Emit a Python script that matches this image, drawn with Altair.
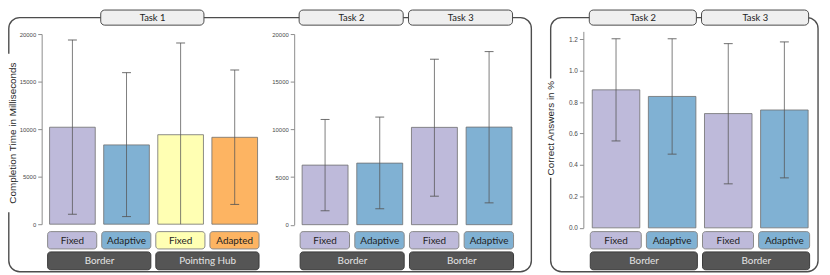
import altair as alt
import pandas as pd

# ---------------- data ----------------
t1_ids = ["B-Fixed", "B-Adaptive", "P-Fixed", "P-Adapted"]
t1_cond = ["Fixed", "Adaptive", "Fixed", "Adapted"]
t1_colors = ["#bebada", "#80b1d3", "#ffffb3", "#fdb462"]
t1_mean = [10200, 8340, 9410, 9140]
t1_hi = [19380, 15940, 19060, 16220]
t1_lo = [1040, 800, 0, 2080]
t1_groups = ["Border", "Pointing Hub"]
t1_task = ["Task 1"]

t23_ids = ["T2-Fixed", "T2-Adaptive", "T3-Fixed", "T3-Adaptive"]
t23_cond = ["Fixed", "Adaptive", "Fixed", "Adaptive"]
t23_colors = ["#bebada", "#80b1d3", "#bebada", "#80b1d3"]
t23_mean = [6250, 6460, 10210, 10240]
t23_hi = [11040, 11290, 17360, 18160]
t23_lo = [1460, 1670, 2990, 2290]
t23_groups = ["Border", "Border"]
t23_tasks = ["Task 2", "Task 3"]

ca_ids = ["C2-Fixed", "C2-Adaptive", "C3-Fixed", "C3-Adaptive"]
ca_cond = ["Fixed", "Adaptive", "Fixed", "Adaptive"]
ca_colors = ["#bebada", "#80b1d3", "#bebada", "#80b1d3"]
ca_mean = [0.878, 0.836, 0.727, 0.750]
ca_hi = [1.203, 1.203, 1.172, 1.183]
ca_lo = [0.553, 0.469, 0.280, 0.318]
ca_groups = ["Border", "Border"]
ca_tasks = ["Task 2", "Task 3"]

time_ticks = [0, 5000, 10000, 15000, 20000]
ca_ticks = [0.0, 0.2, 0.4, 0.6, 0.8, 1.0, 1.2]
titles = ["Completion Time in Milliseconds", "Correct Answers in %"]

# ---------------- layout constants (pixels) ----------------
W, H = 822, 267
COND_Y = (224.5, 242.0)
GROUP_Y = (245.0, 263.0)
TASK_Y = (0.75, 16.0)
FRAME_TOP = 8.4
FRAME_BOT = 265.0
LABEL_FONT = "Lato"
AXIS_FONT = "Liberation Sans"


def panel(ids, cond, colors, mean, lo, hi, xrange, pin, ydom, yrange,
          yvalues, yfmt, axis_x, label_size, groups, tasks):
    df = pd.DataFrame(dict(id=ids, cond=cond, color=colors, mean=mean, lo=lo, hi=hi))
    xs = alt.Scale(domain=ids, range=xrange, paddingInner=pin, paddingOuter=0)
    ys = alt.Scale(domain=ydom, range=yrange, nice=False, zero=True)
    yaxis = alt.Axis(orient="left", offset=-axis_x, values=yvalues, format=yfmt,
                     title=None, grid=False, domainColor="#8c8c8c", tickColor="#8c8c8c",
                     tickSize=4, labelFontSize=label_size, labelColor="#4a4a4a",
                     labelFont=AXIS_FONT, labelPadding=2, domainWidth=1)

    def X(field="id", **kw):
        return alt.X(f"{field}:N", scale=xs, axis=None, **kw)

    def Y(field):
        return alt.Y(f"{field}:Q", scale=ys, axis=yaxis)

    base = alt.Chart(df)
    bars = base.mark_bar(stroke="#6e6e6e", strokeWidth=0.8).encode(
        x=X(), y=Y("mean"), fill=alt.Fill("color:N", scale=None))
    rule = base.mark_rule(color="#555555", strokeWidth=0.9, opacity=0.85).encode(
        x=X(), y=Y("lo"), y2="hi:Q")
    cap_hi = base.mark_tick(color="#555555", size=9, thickness=1, opacity=0.85).encode(
        x=X(), y=Y("hi"))
    cap_lo = base.mark_tick(color="#555555", size=9, thickness=1, opacity=0.85).transform_filter(
        "datum.lo > 0").encode(x=X(), y=Y("lo"))
    cond_box = base.mark_rect(cornerRadius=3, stroke="#8a8a8a", strokeWidth=1,
                              xOffset=-2, x2Offset=1.5).encode(
        x=X(bandPosition=0), x2=alt.X2("id:N", bandPosition=1),
        y=alt.value(COND_Y[0]), y2=alt.value(COND_Y[1]),
        fill=alt.Fill("color:N", scale=None))
    cond_txt = base.mark_text(font=LABEL_FONT, fontSize=10, color="#1e1e1e",
                              baseline="middle").encode(
        x=X(), y=alt.value((COND_Y[0] + COND_Y[1]) / 2 + 0.5), text="cond:N")

    gdf = pd.DataFrame(dict(label=groups, first=ids[0::2], last=ids[1::2]))
    gb = alt.Chart(gdf)
    grp_box = gb.mark_rect(cornerRadius=3, fill="#555555", stroke="#3a3a3a", strokeWidth=1,
                           xOffset=-2, x2Offset=1.5).encode(
        x=X("first", bandPosition=0), x2=alt.X2("last:N", bandPosition=1),
        y=alt.value(GROUP_Y[0]), y2=alt.value(GROUP_Y[1]))
    gap = (xrange[1] - xrange[0]) / (len(ids) - pin) * pin
    grp_txt = gb.mark_text(font=LABEL_FONT, fontSize=10, color="#e4e4e4",
                           baseline="middle", dx=gap / 2).encode(
        x=X("first", bandPosition=1), y=alt.value((GROUP_Y[0] + GROUP_Y[1]) / 2 + 0.5),
        text="label:N")

    if len(tasks) == 1:
        tdf = pd.DataFrame(dict(label=tasks, first=[ids[1]], last=[ids[2]]))
    else:
        tdf = pd.DataFrame(dict(label=tasks, first=ids[0::2], last=ids[1::2]))
    tb = alt.Chart(tdf)
    task_box = tb.mark_rect(cornerRadius=4, fill="#efefef", stroke="#4a4a4a", strokeWidth=1,
                            xOffset=-3, x2Offset=0.5).encode(
        x=X("first", bandPosition=0), x2=alt.X2("last:N", bandPosition=1),
        y=alt.value(TASK_Y[0]), y2=alt.value(TASK_Y[1]))
    task_txt = tb.mark_text(font=LABEL_FONT, fontSize=9.5, color="#222222",
                            baseline="middle", dx=gap / 2 - 1).encode(
        x=X("first", bandPosition=1), y=alt.value((TASK_Y[0] + TASK_Y[1]) / 2 + 0.5),
        text="label:N")

    return alt.layer(bars, rule, cap_hi, cap_lo, cond_box, cond_txt,
                     grp_box, grp_txt, task_box, task_txt)


pA = panel(t1_ids, t1_cond, t1_colors, t1_mean, t1_lo, t1_hi, [42, 252], 0.156,
           [0, 20000], [217, 25], time_ticks, "d", 34, 6, t1_groups, t1_task)
pB = panel(t23_ids, t23_cond, t23_colors, t23_mean, t23_lo, t23_hi, [297, 509], 0.16,
           [0, 20000], [217.5, 25], time_ticks, "d", 289, 6, t23_groups, t23_tasks)
pC = panel(ca_ids, ca_cond, ca_colors, ca_mean, ca_lo, ca_hi, [590, 808], 0.153,
           [0, 1.25], [220.7, 22.3], ca_ticks, ".1f", 581, 6.5, ca_groups, ca_tasks)

one = alt.Data(values=[{"a": 1}])
frameL = alt.Chart(one).mark_rect(fill=None, stroke="#4d4d4d", strokeWidth=1.4, cornerRadius=11).encode(
    x=alt.value(0.8), x2=alt.value(528.5), y=alt.value(FRAME_TOP), y2=alt.value(FRAME_BOT))
frameR = alt.Chart(one).mark_rect(fill=None, stroke="#4d4d4d", strokeWidth=1.4, cornerRadius=11).encode(
    x=alt.value(548), x2=alt.value(818), y=alt.value(FRAME_TOP), y2=alt.value(FRAME_BOT))
gapL = alt.Chart(one).mark_rect(fill="white").encode(
    x=alt.value(0), x2=alt.value(9), y=alt.value(45), y2=alt.value(205))
gapR = alt.Chart(one).mark_rect(fill="white").encode(
    x=alt.value(543), x2=alt.value(553), y=alt.value(70), y2=alt.value(170))
titleL = alt.Chart(pd.DataFrame(dict(t=[titles[0]]))).mark_text(
    angle=270, font=AXIS_FONT, fontSize=10, color="#1e1e1e", baseline="middle", align="center").encode(
    x=alt.value(4.6), y=alt.value(125), text="t:N")
titleR = alt.Chart(pd.DataFrame(dict(t=[titles[1]]))).mark_text(
    angle=270, font=AXIS_FONT, fontSize=10, color="#1e1e1e", baseline="middle", align="center").encode(
    x=alt.value(548), y=alt.value(120), text="t:N")

chart = alt.layer(frameL, frameR, gapL, gapR, titleL, titleR, pA, pB, pC).resolve_scale(
    x="independent", y="independent").properties(
    width=W, height=H, padding=0, autosize=alt.AutoSizeParams(type="none")
).configure_view(stroke=None)

chart.save("out.html", embed_options={"renderer": "svg", "actions": False})
